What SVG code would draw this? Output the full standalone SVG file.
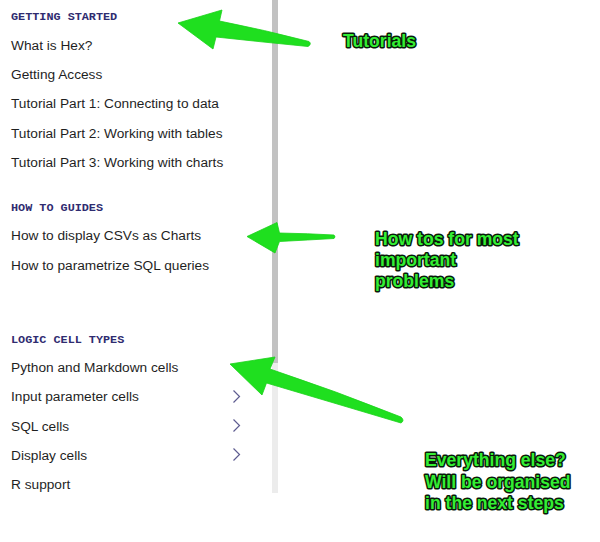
<svg xmlns="http://www.w3.org/2000/svg" width="600" height="542" viewBox="0 0 600 542">
<style>
.hd{font-family:"Liberation Mono","DejaVu Sans Mono",monospace;font-weight:bold;font-size:11.8px;fill:#2f2c70}
.it{font-family:"Liberation Sans",Arial,sans-serif;font-size:13.7px;fill:#1f1f1f}
.chev{fill:none;stroke:#5e5c90;stroke-width:1.2}
.note{font-family:"Liberation Sans",Arial,sans-serif;font-weight:bold;font-size:17.6px;fill:#33ee33;stroke:#0a1a0a;stroke-width:3;paint-order:stroke;stroke-linejoin:round}
.arrow{fill:#1fdf1f;stroke:#1ad21a;stroke-width:0.8;stroke-linejoin:round}
</style>
<rect width="600" height="542" fill="#ffffff"/>
<g id="scrollbar">
<rect x="272" y="362" width="6" height="131" fill="#ececec"/>
<rect x="272" y="0" width="6" height="363" fill="#c2c2c2"/>
</g>
<g id="getting-started">
<text class="hd" x="11" y="20">GETTING STARTED</text>
<text class="it" x="11" y="50">What is Hex?</text>
<text class="it" x="11" y="79">Getting Access</text>
<text class="it" x="11" y="108">Tutorial Part 1: Connecting to data</text>
<text class="it" x="11" y="137.5">Tutorial Part 2: Working with tables</text>
<text class="it" x="11" y="167">Tutorial Part 3: Working with charts</text>
</g>
<g id="how-to-guides">
<text class="hd" x="11" y="211">HOW TO GUIDES</text>
<text class="it" x="11" y="240">How to display CSVs as Charts</text>
<text class="it" x="11" y="269.5">How to parametrize SQL queries</text>
</g>
<g id="logic-cell-types">
<text class="hd" x="11" y="342.5">LOGIC CELL TYPES</text>
<text class="it" x="11" y="371.5">Python and Markdown cells</text>
<text class="it" x="11" y="401">Input parameter cells</text>
<text class="it" x="11" y="430.5">SQL cells</text>
<text class="it" x="11" y="460">Display cells</text>
<text class="it" x="11" y="489">R support</text>
<polyline class="chev" points="233.5,390.5 239.5,396.5 233.5,402.5"/>
<polyline class="chev" points="233.5,419.5 239.5,425.5 233.5,431.5"/>
<polyline class="chev" points="233.5,448.5 239.5,454.5 233.5,460.5"/>
</g>
<g id="connectors">
<path class="arrow" d="M178,23 L222,10 L219.5,21 Q265,30 309,41.5 Q312,44 308,46.5 Q262,42 216,37 L213,49 Z"/>
<path class="arrow" d="M247,236.5 L277,222.5 L279.5,233 Q308,233.5 334,235 Q336,237 334,238.5 Q308,240 279.5,241.5 L275,253 Z"/>
<path class="arrow" d="M230,364 L275,357 L270,369 Q336,391 401,417 Q405,420.5 401,423 Q334,403 266.5,383 L262,395 Z"/>
</g>
<g id="note-tutorials">
<text class="note" x="343" y="47">Tutorials</text>
</g>
<g id="note-howtos">
<text class="note" x="375" y="245">How tos for most</text>
<text class="note" x="375" y="266">important</text>
<text class="note" x="375" y="287">problems</text>
</g>
<g id="note-everything">
<text class="note" x="425" y="466">Everything else?</text>
<text class="note" x="425" y="488">Will be organised</text>
<text class="note" x="425" y="509">in the next steps</text>
</g>
</svg>
